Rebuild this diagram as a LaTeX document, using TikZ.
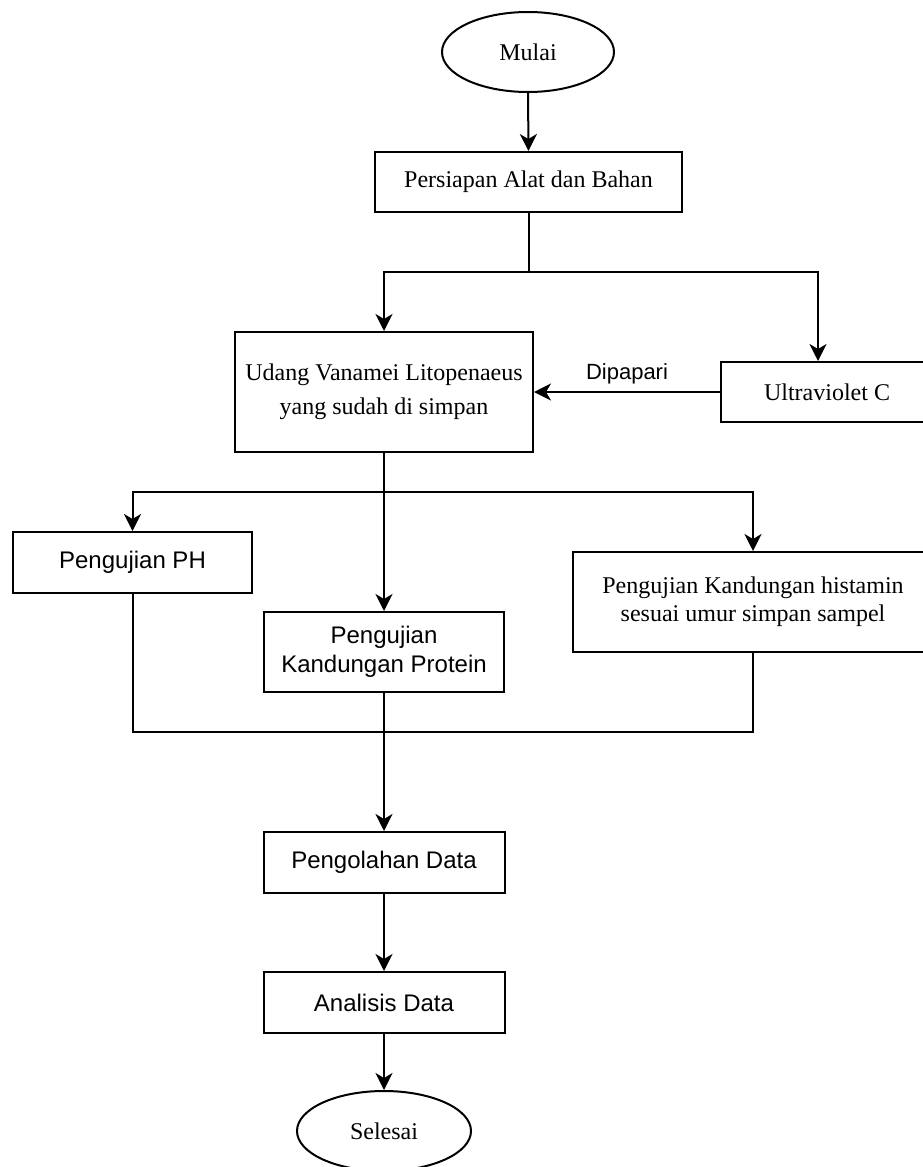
\documentclass[tikz,border=0pt]{standalone}
\usepackage{fontspec}
\setmainfont{Liberation Serif}
\setsansfont{Liberation Sans}
\usetikzlibrary{arrows.meta,shapes.geometric}
\begin{document}
\begin{tikzpicture}[x=1pt,y=-1pt,
  line width=2pt,
  box/.style={draw, rectangle, inner sep=0pt, align=center, text=black},
  oval/.style={draw, ellipse, inner sep=0pt, align=center},
  serif/.style={font=\rmfamily\fontsize{24}{28}\selectfont},
  sans/.style={font=\sffamily\fontsize{24}{29}\selectfont},
  arr/.style={-{Stealth[length=17pt,width=17pt,inset=5pt]}}
]
\useasboundingbox (0,0) rectangle (923,1167);

\node[oval, serif, minimum width=172pt, minimum height=80pt] (mulai) at (528,52) {Mulai};
\node[box, serif, minimum width=307pt, minimum height=60pt] (persiapan) at (528.5,182) {Persiapan Alat dan Bahan};
\node[box, serif, font=\rmfamily\fontsize{24}{34}\selectfont, minimum width=298pt, minimum height=120pt] (udang) at (384,392) {Udang Vanamei Litopenaeus\\yang sudah di simpan};
\node[box, serif, minimum width=212pt, minimum height=60pt] (uv) at (827,392) {Ultraviolet C};
\node[box, sans, minimum width=239pt, minimum height=61pt] (ph) at (132.5,562.5) {Pengujian PH};
\node[box, sans, minimum width=240pt, minimum height=80pt] (protein) at (384,652) {Pengujian\\Kandungan Protein};
\node[box, serif, minimum width=360pt, minimum height=100pt] (hist) at (753,602) {Pengujian Kandungan histamin\\sesuai umur simpan sampel};
\node[box, sans, minimum width=241pt, minimum height=61pt] (olah) at (384,862.5) {Pengolahan Data};
\node[box, sans, minimum width=241pt, minimum height=61pt] (anal) at (384,1002.5) {Analisis Data};
\node[oval, serif, minimum width=174pt, minimum height=80pt] (selesai) at (384,1131) {Selesai};

\coordinate (b1) at (528.5,272);
\coordinate (b2) at (384,492);
\coordinate (m1) at (384,732);

\draw[arr] (mulai.south) -- (persiapan.north);
\draw (persiapan.south) -- (b1);
\draw[arr] (b1) -| (udang.north);
\draw[arr] (b1) -| ([xshift=-9pt]uv.north);
\draw[arr] (uv.west) -- node[sans, font=\sffamily\fontsize{22}{26}\selectfont, above=4pt] (lbl) {Dipapari} (udang.east);
\draw (udang.south) -- (b2);
\draw[arr] (b2) -| (ph.north);
\draw[arr] (b2) -| (hist.north);
\draw[arr] (b2) -- (protein.north);
\draw (ph.south) |- (m1) -| (hist.south);
\draw[arr] (protein.south) -- (olah.north);
\draw[arr] (olah.south) -- (anal.north);
\draw[arr] (anal.south) -- (selesai.north);
\end{tikzpicture}
\end{document}
